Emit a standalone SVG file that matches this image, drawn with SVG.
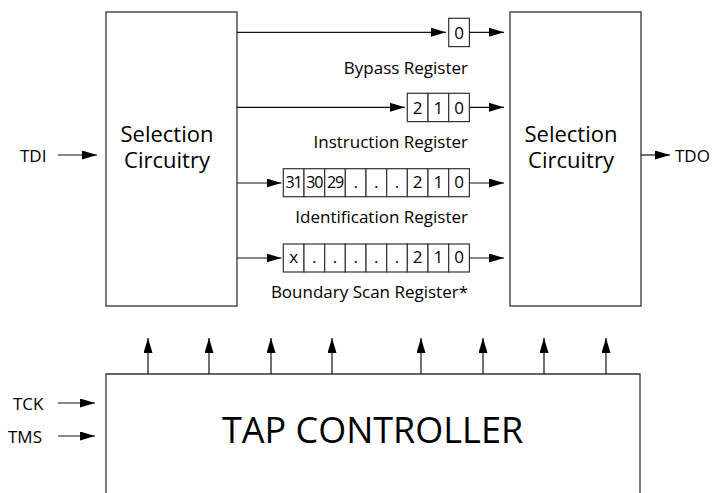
<svg xmlns="http://www.w3.org/2000/svg" width="722" height="493" viewBox="0 0 722 493">
<defs>
<marker id="ah" markerUnits="userSpaceOnUse" markerWidth="16" markerHeight="10" refX="15" refY="4.5" orient="auto">
<path d="M0,0 L15,4.5 L0,9 z" fill="#000"/>
</marker>
<style>
text{font-family:"Open Sans","Noto Sans","Liberation Sans",sans-serif;fill:#000}
.box{fill:#fff;stroke:#333;stroke-width:1.3}
.cell{fill:#fff;stroke:#333;stroke-width:1.2}
.ar{fill:none;stroke:#111;stroke-width:1.2;marker-end:url(#ah)}
.big{font-size:22px;text-anchor:middle}
.lbl{font-size:17px}
.reg{font-size:17px;text-anchor:end}
.d{font-size:17px;text-anchor:middle}
.dd{font-size:16px;text-anchor:middle;letter-spacing:-1.2px}
</style>
</defs>
<rect width="722" height="493" fill="#fff"/>

<g id="sel-left">
<rect class="box" x="106" y="12" width="131" height="294"/>
<text class="big" x="167" y="142"><tspan x="167" y="142">Selection</tspan><tspan x="167" y="168">Circuitry</tspan></text>
</g>

<g id="sel-right">
<rect class="box" x="510" y="12" width="131" height="294"/>
<text class="big" x="571" y="142"><tspan x="571" y="142">Selection</tspan><tspan x="571" y="168">Circuitry</tspan></text>
</g>

<g id="tap">
<path class="box" d="M106,494 V374 H640 V494"/>
<text x="372.5" y="443" style="font-size:36px;text-anchor:middle">TAP CONTROLLER</text>
</g>

<g id="bypass">
<rect class="cell" x="448.7" y="18.3" width="20.7" height="28.3"/>
<text class="d" x="459" y="39">0</text>
<text class="reg" x="468" y="74">Bypass Register</text>
</g>

<g id="instruction">
<rect class="cell" x="407.3" y="93.3" width="20.7" height="28.3"/>
<rect class="cell" x="428" y="93.3" width="20.7" height="28.3"/>
<rect class="cell" x="448.7" y="93.3" width="20.7" height="28.3"/>
<text class="d" x="417.7" y="114">2</text>
<text class="d" x="438.3" y="114">1</text>
<text class="d" x="459" y="114">0</text>
<text class="reg" x="468" y="148">Instruction Register</text>
</g>

<g id="identification">
<rect class="cell" x="283.3" y="168.7" width="20.7" height="28"/>
<rect class="cell" x="304" y="168.7" width="20.7" height="28"/>
<rect class="cell" x="324.7" y="168.7" width="20.7" height="28"/>
<rect class="cell" x="345.3" y="168.7" width="20.7" height="28"/>
<rect class="cell" x="366" y="168.7" width="20.7" height="28"/>
<rect class="cell" x="386.7" y="168.7" width="20.7" height="28"/>
<rect class="cell" x="407.3" y="168.7" width="20.7" height="28"/>
<rect class="cell" x="428" y="168.7" width="20.7" height="28"/>
<rect class="cell" x="448.7" y="168.7" width="20.7" height="28"/>
<text class="dd" x="293.5" y="188">31</text>
<text class="dd" x="314.2" y="188">30</text>
<text class="dd" x="334.9" y="188">29</text>
<text class="d" x="355.7" y="188">.</text>
<text class="d" x="376.3" y="188">.</text>
<text class="d" x="397" y="188">.</text>
<text class="d" x="417.7" y="188">2</text>
<text class="d" x="438.3" y="188">1</text>
<text class="d" x="459" y="188">0</text>
<text class="reg" x="468" y="223">Identification Register</text>
</g>

<g id="boundary">
<rect class="cell" x="283.3" y="244" width="20.7" height="28"/>
<rect class="cell" x="304" y="244" width="20.7" height="28"/>
<rect class="cell" x="324.7" y="244" width="20.7" height="28"/>
<rect class="cell" x="345.3" y="244" width="20.7" height="28"/>
<rect class="cell" x="366" y="244" width="20.7" height="28"/>
<rect class="cell" x="386.7" y="244" width="20.7" height="28"/>
<rect class="cell" x="407.3" y="244" width="20.7" height="28"/>
<rect class="cell" x="428" y="244" width="20.7" height="28"/>
<rect class="cell" x="448.7" y="244" width="20.7" height="28"/>
<text class="d" x="293.7" y="263">x</text>
<text class="d" x="314.3" y="263">.</text>
<text class="d" x="335" y="263">.</text>
<text class="d" x="355.7" y="263">.</text>
<text class="d" x="376.3" y="263">.</text>
<text class="d" x="397" y="263">.</text>
<text class="d" x="417.7" y="263">2</text>
<text class="d" x="438.3" y="263">1</text>
<text class="d" x="459" y="263">0</text>
<text class="reg" x="468" y="298">Boundary Scan Register*</text>
</g>

<g id="io-labels">
<text class="lbl" x="20" y="162">TDI</text>
<text class="lbl" x="675" y="162">TDO</text>
<text class="lbl" x="13" y="410">TCK</text>
<text class="lbl" x="8" y="443">TMS</text>
</g>

<g id="connectors">
<line class="ar" x1="58" y1="155" x2="97" y2="155"/>
<line class="ar" x1="641" y1="155" x2="670" y2="155"/>
<line class="ar" x1="58" y1="403" x2="95" y2="403"/>
<line class="ar" x1="58" y1="436" x2="95" y2="436"/>

<line class="ar" x1="237" y1="32.3" x2="446" y2="32.3"/>
<line class="ar" x1="469.4" y1="32.3" x2="504" y2="32.3"/>
<line class="ar" x1="237" y1="107.3" x2="405" y2="107.3"/>
<line class="ar" x1="469.4" y1="107.3" x2="504" y2="107.3"/>
<line class="ar" x1="237" y1="183" x2="281.5" y2="183"/>
<line class="ar" x1="469.4" y1="183" x2="504" y2="183"/>
<line class="ar" x1="237" y1="258" x2="281.5" y2="258"/>
<line class="ar" x1="469.4" y1="258" x2="504" y2="258"/>

<line class="ar" x1="148" y1="374" x2="148" y2="338"/>
<line class="ar" x1="209" y1="374" x2="209" y2="338"/>
<line class="ar" x1="271" y1="374" x2="271" y2="338"/>
<line class="ar" x1="332" y1="374" x2="332" y2="338"/>
<line class="ar" x1="421" y1="374" x2="421" y2="338"/>
<line class="ar" x1="483" y1="374" x2="483" y2="338"/>
<line class="ar" x1="544" y1="374" x2="544" y2="338"/>
<line class="ar" x1="606" y1="374" x2="606" y2="338"/>
</g>
</svg>
